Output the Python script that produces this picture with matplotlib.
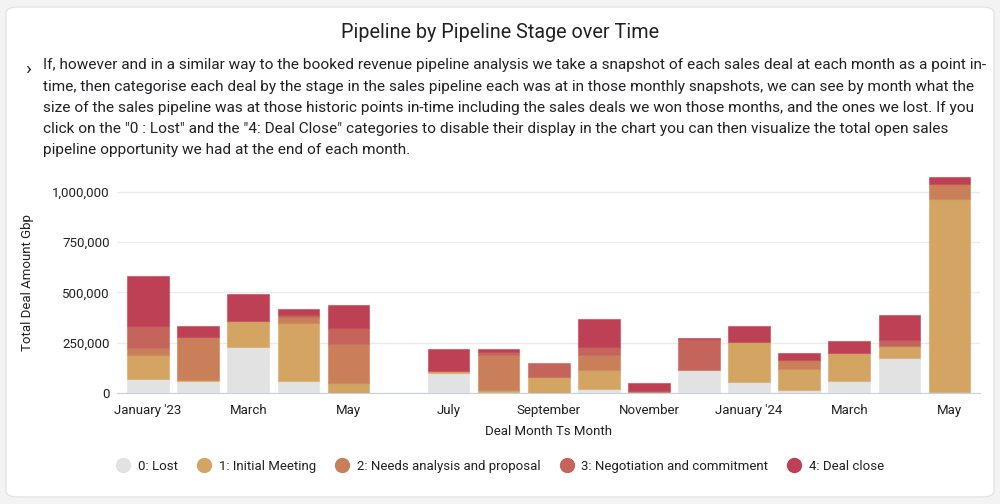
import matplotlib
matplotlib.use("Agg")
from matplotlib import pyplot as plt
from matplotlib.patches import FancyBboxPatch
from matplotlib.lines import Line2D
import matplotlib.colors as mcolors
import numpy as np

plt.rcParams['font.family'] = ['Roboto', 'DejaVu Sans']

# months Jan '23 .. May '24 (June '23 has no data)
months = ["Jan 23", "Feb 23", "Mar 23", "Apr 23", "May 23", "Jun 23", "Jul 23", "Aug 23",
          "Sep 23", "Oct 23", "Nov 23", "Dec 23", "Jan 24", "Feb 24", "Mar 24", "Apr 24", "May 24"]
tick_labels = ["January '23", "March", "May", "July", "September", "November",
               "January '24", "March", "May"]

lost        = [67000, 60000, 229000, 60000, 0, 0, 98000, 4000, 0, 17000, 0, 113000, 53000, 12000, 60000, 174000, 3000]
initial     = [119000, 3000, 128000, 289000, 50000, 0, 10000, 10000, 80000, 96000, 4000, 0, 201000, 106000, 139000, 59000, 961000]
needs       = [37000, 214000, 0, 28000, 194000, 0, 0, 174000, 0, 73000, 6000, 0, 0, 43000, 0, 0, 75000]
negotiation = [109000, 0, 0, 8000, 78000, 0, 0, 16000, 66000, 42000, 0, 153000, 0, 0, 0, 28000, 0]
deal_close  = [251000, 54000, 135000, 32000, 116000, 0, 108000, 12000, 0, 139000, 40000, 5000, 77000, 38000, 60000, 127000, 34000]

series = [
    ("0: Lost", lost, "#e2e2e2"),
    ("1: Initial Meeting", initial, "#d4a462"),
    ("2: Needs analysis and proposal", needs, "#c98059"),
    ("3: Negotiation and commitment", negotiation, "#c5645a"),
    ("4: Deal close", deal_close, "#be4055"),
]

fig = plt.figure(figsize=(10, 5.04), dpi=100)
fig.patch.set_facecolor("#f3f3f3")

# white card behind everything
card = FancyBboxPatch((0.006, 0.014), 0.988, 0.972, boxstyle="round,pad=0,rounding_size=0.012",
                      transform=fig.transFigure, facecolor="white", edgecolor="#e4e4e4",
                      linewidth=1, zorder=-10)
fig.patches.append(card)

fig.text(0.5, 0.936, "Pipeline by Pipeline Stage over Time", ha="center", va="center",
         fontsize=14.2, color="#202124")

desc = ("If, however and in a similar way to the booked revenue pipeline analysis we take a snapshot of each sales deal at each month as a point in-\n"
        "time, then categorise each deal by the stage in the sales pipeline each was at in those monthly snapshots, we can see by month what the\n"
        "size of the sales pipeline was at those historic points in-time including the sales deals we won those months, and the ones we lost. If you\n"
        "click on the \"0 : Lost\" and the \"4: Deal Close\" categories to disable their display in the chart you can then visualize the total open sales\n"
        "pipeline opportunity we had at the end of each month.")
fig.text(0.025, 0.864, "›", ha="left", va="center", fontsize=14, color="#202124")
fig.text(0.043, 0.884, desc, ha="left", va="top", fontsize=11.1, color="#202124",
         linespacing=1.64)

ax = fig.add_axes([0.117, 0.2208, 0.863, 0.4379])
ax.set_facecolor("none")
x = np.arange(len(months))
bottom = np.zeros(len(months))
for name, vals, col in series:
    vals = np.array(vals, dtype=float)
    edge = mcolors.to_rgba(col, 0.55)
    lw = np.where(vals > 0, 0.8, 0.0)
    ax.bar(x, vals, width=0.83, bottom=bottom, color=col, edgecolor=edge,
           linewidth=lw, zorder=3, label=name)
    bottom += vals

ax.set_xlim(-0.62, 16.61)
ax.set_ylim(0, 1100000)
ax.set_yticks([0, 250000, 500000, 750000, 1000000])
ax.set_yticklabels(["0", "250,000", "500,000", "750,000", "1,000,000"])
ax.set_xticks(x[::2])
ax.set_xticklabels(tick_labels)
ax.grid(axis="y", color="#ebebeb", linewidth=1, zorder=0)
for s in ["top", "right", "left"]:
    ax.spines[s].set_visible(False)
ax.spines["bottom"].set_color("#c8d0e0")
ax.tick_params(axis="both", length=0, labelsize=9.5, colors="#202124")
ax.tick_params(axis="x", pad=8)
ax.tick_params(axis="y", pad=5)
ax.set_xlabel("Deal Month Ts Month", fontsize=9.5, color="#202124", labelpad=6)
ax.set_ylabel("Total Deal Amount Gbp", fontsize=9.5, color="#202124", labelpad=13)

handles = [Line2D([0], [0], marker="o", linestyle="", markersize=10,
                  markerfacecolor=c, markeredgecolor=c) for _, _, c in series]
fig.legend(handles, [n for n, _, _ in series], loc="center", bbox_to_anchor=(0.497, 0.075),
           ncol=5, frameon=False, fontsize=9.5, handletextpad=0.1, columnspacing=1.0,
           labelcolor="#202124")

fig.savefig("out.png", dpi=100, facecolor=fig.get_facecolor())
